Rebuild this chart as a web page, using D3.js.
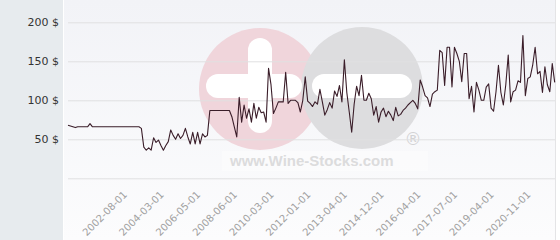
<!DOCTYPE html>
<html>
<head>
<meta charset="utf-8">
<script src="https://cdn.jsdelivr.net/npm/d3@7"></script>
<style>
  html, body { margin: 0; padding: 0; background: #fff; }
  svg { display: block; }
</style>
</head>
<body>
<div id="chart"></div>
<script>
// monthly auction prices, one value per category
var PRICES = [
    68, 67, 66, 65, 66, 66, 66, 66, 66, 70,
    66, 66, 66, 66, 66, 66, 66, 66, 66, 66,
    66, 66, 66, 66, 66, 66, 66, 66, 66, 66,
    64, 40, 36, 39, 36, 52, 46, 49, 42, 36,
    42, 47, 62, 55, 50, 57, 51, 55, 64, 53,
    44, 59, 44, 59, 44, 57, 53, 55, 87, 87,
    87, 87, 87, 87, 87, 87, 87, 79, 66, 53,
    104, 72, 94, 77, 89, 72, 96, 77, 91, 84,
    85, 72, 141, 120, 83, 90, 98, 98, 98, 136,
    96, 100, 100, 100, 97, 85, 100, 130, 99, 96,
    92, 98, 95, 114, 98, 81, 88, 97, 90, 112,
    105, 119, 98, 152, 110, 85, 59, 95, 118, 106,
    132, 100, 100, 109, 102, 81, 92, 72, 85, 90,
    79, 86, 81, 74, 91, 80, 82, 87, 90, 94,
    97, 100, 96, 89, 126, 117, 106, 103, 92, 108,
    111, 113, 164, 161, 119, 168, 168, 117, 168, 160,
    150, 124, 160, 160, 102, 118, 85, 123, 113, 100,
    100, 117, 121, 90, 86, 111, 145, 110, 94, 120,
    158, 98, 111, 113, 125, 123, 183, 106, 128, 130,
    145, 168, 134, 137, 110, 143, 120, 111, 147, 123
];

var TICK_LABELS = [
    '2002-08-01', '2004-03-01', '2006-05-01', '2008-06-01',
    '2010-03-01', '2012-01-01', '2013-04-01', '2014-12-01',
    '2016-04-01', '2017-07-01', '2019-04-01', '2020-11-01'
];
var FIRST_LABEL = 23;   // category index of the first label
var LABEL_EVERY = 15;   // one label every n categories

var Y_TICKS = [0, 50, 100, 150, 200];

var W = 560, H = 240;
var plot = {left: 68, right: 555, top: 22.3, bottom: 178.3};

var svg = d3.select('#chart').append('svg')
    .attr('width', W).attr('height', H);

// backgrounds
var defs = svg.append('defs');
var grad = defs.append('linearGradient')
    .attr('id', 'plotBg').attr('x1', 0).attr('y1', 0).attr('x2', 0).attr('y2', 1);
grad.append('stop').attr('offset', '0%').attr('stop-color', '#f2f3f7');
grad.append('stop').attr('offset', '100%').attr('stop-color', '#fcfcfd');

svg.append('rect').attr('width', W).attr('height', H).attr('fill', '#fff');
svg.append('rect').attr('x', 0).attr('y', 0).attr('width', 63).attr('height', H)
    .attr('fill', '#e7ebee');
svg.append('rect').attr('x', 64).attr('y', 0).attr('width', plot.right - 64).attr('height', H)
    .attr('fill', 'url(#plotBg)');
svg.append('line').attr('x1', plot.right + 0.5).attr('x2', plot.right + 0.5)
    .attr('y1', 0).attr('y2', H).attr('stroke', '#e4e4e6');

// watermark
var wm = svg.append('g').attr('class', 'watermark');
wm.append('circle').attr('cx', 260).attr('cy', 89).attr('r', 61).attr('fill', '#f0d5db');
wm.append('circle').attr('cx', 362).attr('cy', 88).attr('r', 61).attr('fill', '#dddddf');
wm.append('rect').attr('x', 248).attr('y', 38).attr('width', 24).attr('height', 95)
    .attr('rx', 12).attr('fill', '#fff');
wm.append('rect').attr('x', 206).attr('y', 74).attr('width', 96).attr('height', 24)
    .attr('rx', 12).attr('fill', '#fff');
wm.append('rect').attr('x', 312).attr('y', 74).attr('width', 100).attr('height', 24)
    .attr('rx', 12).attr('fill', '#fff');
wm.append('rect').attr('x', 222).attr('y', 151).attr('width', 206).attr('height', 20)
    .attr('fill', '#fff').attr('opacity', 0.4);
wm.append('text').attr('x', 230).attr('y', 166)
    .attr('font-family', '"Liberation Sans", Arial, sans-serif')
    .attr('font-weight', 'bold').attr('font-size', 15)
    .attr('fill', '#dcdcdd').text('www.Wine-Stocks.com');
wm.append('text').attr('x', 413).attr('y', 145).attr('text-anchor', 'middle')
    .attr('font-family', '"DejaVu Sans", sans-serif').attr('font-size', 17)
    .attr('fill', '#d2d2d4').text('®');

// scales
var x = d3.scalePoint()
    .domain(d3.range(PRICES.length))
    .range([plot.left, 554.7]);
var y = d3.scaleLinear().domain([0, 200]).range([plot.bottom, plot.top]);

// y axis + grid
var yAxis = svg.append('g')
    .attr('transform', 'translate(' + plot.left + ',0)')
    .call(d3.axisLeft(y).tickValues(Y_TICKS)
        .tickSize(-(plot.right - plot.left))
        .tickPadding(9)
        .tickFormat(function(d){ return d === 0 ? '' : d + ' $'; }));
yAxis.select('.domain').remove();
yAxis.selectAll('.tick line').attr('stroke', '#e0e0e2');
yAxis.selectAll('.tick text')
    .attr('font-family', '"DejaVu Sans", Verdana, sans-serif')
    .attr('font-size', 11).attr('fill', '#333');

// x axis labels
var tickIdx = TICK_LABELS.map(function(d, i){ return FIRST_LABEL + i * LABEL_EVERY; });
var xAxis = svg.append('g')
    .attr('transform', 'translate(0,' + plot.bottom + ')')
    .call(d3.axisBottom(x).tickValues(tickIdx).tickSize(0)
        .tickFormat(function(d, i){ return TICK_LABELS[i]; }));
xAxis.select('.domain').remove();
xAxis.selectAll('.tick text')
    .attr('font-family', '"DejaVu Sans", Verdana, sans-serif')
    .attr('font-size', 10).attr('fill', '#a0a0a0')
    .attr('text-anchor', 'end')
    .attr('dy', null).attr('y', 0)
    .attr('transform', 'translate(3,17) rotate(-45)');

// price line
var line = d3.line()
    .x(function(d, i){ return x(i); })
    .y(function(d){ return y(d); });

svg.append('path')
    .datum(PRICES)
    .attr('d', line)
    .attr('fill', 'none')
    .attr('stroke', '#3a1d29')
    .attr('stroke-width', 1.1)
    .attr('stroke-linejoin', 'round');
</script>
</body>
</html>
